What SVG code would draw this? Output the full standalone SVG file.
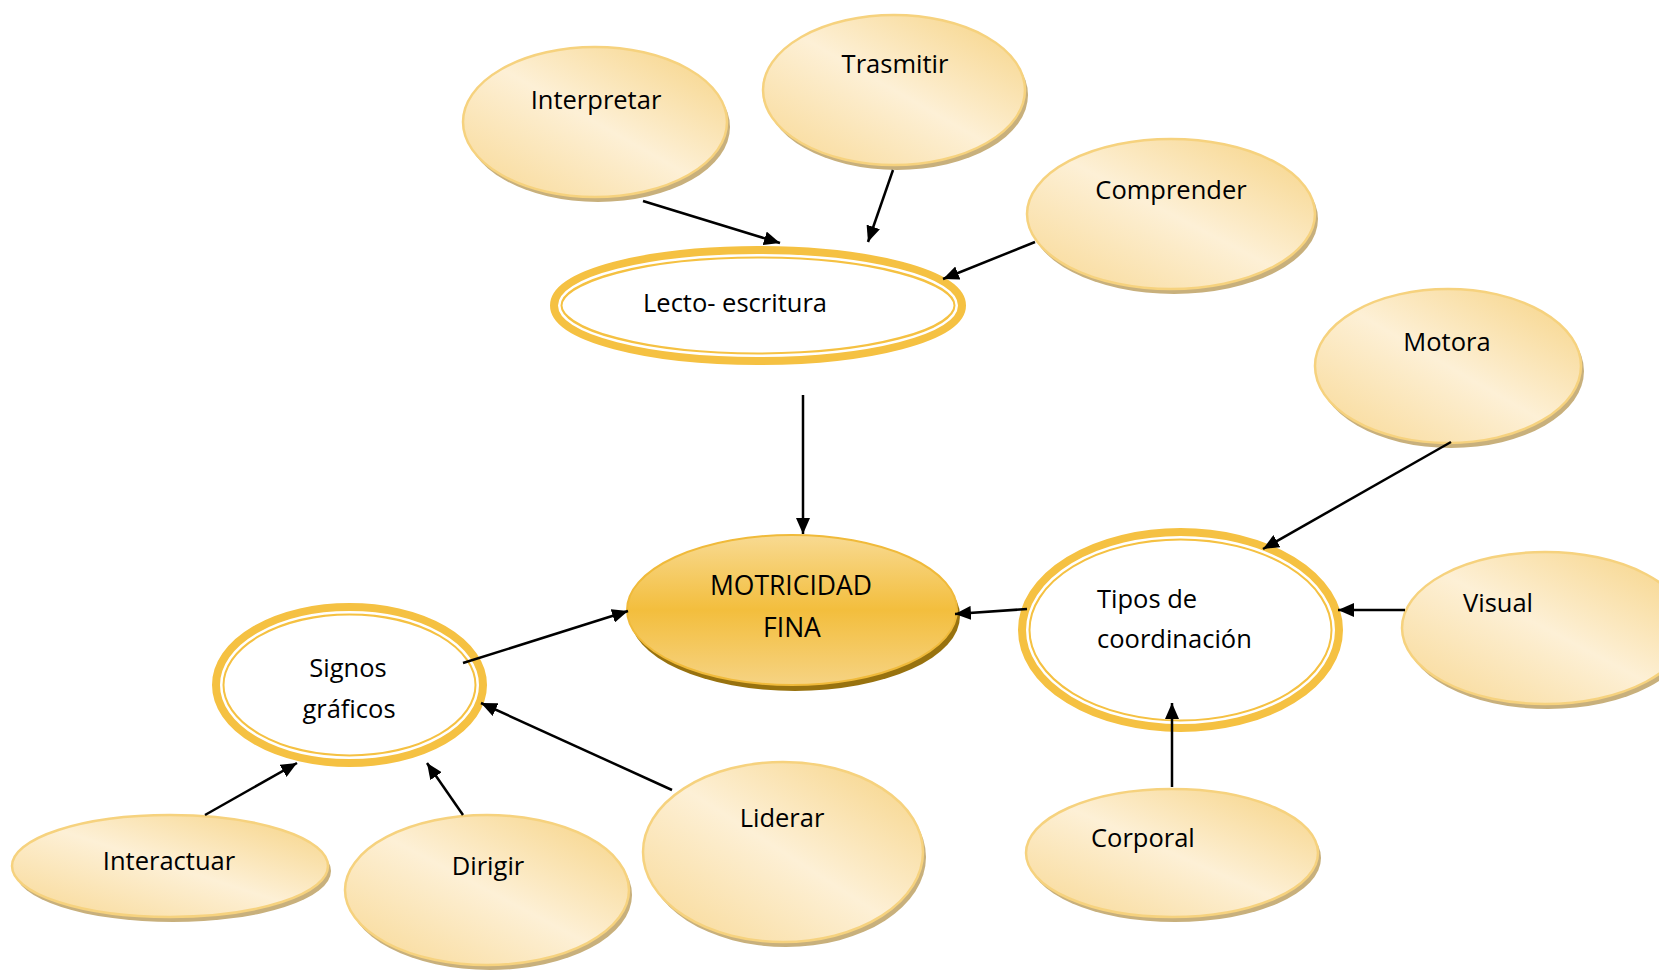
<svg xmlns="http://www.w3.org/2000/svg" width="1659" height="972" viewBox="0 0 1659 972">
<defs>
<linearGradient id="gLight" x1="1" y1="0" x2="0" y2="1">
<stop offset="0" stop-color="#F6D282"/>
<stop offset="0.5" stop-color="#FDF0D6"/>
<stop offset="1" stop-color="#F8D893"/>
</linearGradient>
<linearGradient id="gMain" x1="0" y1="0" x2="0" y2="1">
<stop offset="0" stop-color="#F8DA92"/>
<stop offset="0.5" stop-color="#F3BE3D"/>
<stop offset="1" stop-color="#F6D383"/>
</linearGradient>
<marker id="ah" markerUnits="userSpaceOnUse" markerWidth="17" markerHeight="14" refX="16" refY="7" orient="auto">
<path d="M0,0 L16,7 L0,14 z" fill="#000"/>
</marker>
</defs>
<style>
.t{font-family:"Open Sans","Liberation Sans",sans-serif;font-size:25.5px;fill:#000}
.c{text-anchor:middle}
.big{font-size:26.5px}
.sh{fill:#C8B07C}
.lt{fill:url(#gLight);stroke:#F6D27E;stroke-width:2.5}
.dbl{fill:#fff;stroke:#F5C142;stroke-width:12.5}
.dbi{fill:none;stroke:#fff;stroke-width:2.5}
.ln{stroke:#000;stroke-width:2.5;fill:none;marker-end:url(#ah)}
</style>
<rect width="1659" height="972" fill="#fff"/>

<g id="interpretar">
<ellipse class="sh" cx="598" cy="127" rx="132" ry="75"/>
<ellipse class="lt" cx="595" cy="122" rx="132" ry="75"/>
<text class="t c" x="596" y="109">Interpretar</text>
</g>
<g id="trasmitir">
<ellipse class="sh" cx="897" cy="95" rx="131" ry="75"/>
<ellipse class="lt" cx="894" cy="90" rx="131" ry="75"/>
<text class="t c" x="895" y="73">Trasmitir</text>
</g>
<g id="comprender">
<ellipse class="sh" cx="1174" cy="219" rx="144" ry="75"/>
<ellipse class="lt" cx="1171" cy="214" rx="144" ry="75"/>
<text class="t c" x="1171" y="199">Comprender</text>
</g>
<g id="lecto">
<ellipse class="dbl" cx="758" cy="305.5" rx="201.75" ry="53.25"/>
<ellipse class="dbi" cx="758" cy="305.5" rx="198.75" ry="50.25"/>
<text class="t" x="643" y="312">Lecto- escritura</text>
</g>
<g id="motricidad">
<ellipse fill="#98720F" cx="795" cy="616" rx="165" ry="75"/>
<ellipse fill="url(#gMain)" stroke="#F0BA3A" stroke-width="2" cx="792" cy="610" rx="165" ry="75"/>
<text class="t c big" x="791" y="595">MOTRICIDAD</text>
<text class="t c big" x="792" y="637">FINA</text>
</g>
<g id="signos">
<ellipse class="dbl" cx="349.5" cy="685" rx="131.25" ry="75.75"/>
<ellipse class="dbi" cx="349.5" cy="685" rx="128.25" ry="72.75"/>
<text class="t c" x="348" y="677">Signos</text>
<text class="t c" x="349" y="718">gráficos</text>
</g>
<g id="tipos">
<ellipse class="dbl" cx="1180.5" cy="630" rx="156.25" ry="95.75"/>
<ellipse class="dbi" cx="1180.5" cy="630" rx="153.25" ry="92.75"/>
<text class="t" x="1097" y="608">Tipos de</text>
<text class="t" x="1097" y="648">coordinación</text>
</g>
<g id="motora">
<ellipse class="sh" cx="1451" cy="371" rx="133" ry="77"/>
<ellipse class="lt" cx="1448" cy="366" rx="133" ry="77"/>
<text class="t c" x="1447" y="351">Motora</text>
</g>
<g id="visual">
<ellipse class="sh" cx="1548" cy="633" rx="143" ry="76"/>
<ellipse class="lt" cx="1545" cy="628" rx="143" ry="76"/>
<text class="t" x="1463" y="612">Visual</text>
</g>
<g id="corporal">
<ellipse class="sh" cx="1175" cy="858" rx="146" ry="64"/>
<ellipse class="lt" cx="1172" cy="853" rx="146" ry="64"/>
<text class="t" x="1091" y="847">Corporal</text>
</g>
<g id="liderar">
<ellipse class="sh" cx="786" cy="857" rx="140" ry="90"/>
<ellipse class="lt" cx="783" cy="852" rx="140" ry="90"/>
<text class="t c" x="782" y="827">Liderar</text>
</g>
<g id="dirigir">
<ellipse class="sh" cx="490" cy="895" rx="142" ry="75"/>
<ellipse class="lt" cx="487" cy="890" rx="142" ry="75"/>
<text class="t c" x="488" y="875">Dirigir</text>
</g>
<g id="interactuar">
<ellipse class="sh" cx="173" cy="871" rx="158" ry="51"/>
<ellipse class="lt" cx="170" cy="866" rx="158" ry="51"/>
<text class="t c" x="169" y="870">Interactuar</text>
</g>

<g id="connectors">
<line class="ln" x1="643" y1="201" x2="780" y2="243"/>
<line class="ln" x1="893" y1="170" x2="868" y2="242"/>
<line class="ln" x1="1035" y1="242" x2="943" y2="279"/>
<line class="ln" x1="803" y1="395" x2="803" y2="534"/>
<line class="ln" x1="463" y1="663" x2="628" y2="611"/>
<line class="ln" x1="1027" y1="609" x2="955" y2="614"/>
<line class="ln" x1="1451" y1="442" x2="1263" y2="549"/>
<line class="ln" x1="1405" y1="610" x2="1338" y2="610"/>
<line class="ln" x1="1172" y1="787" x2="1172" y2="703"/>
<line class="ln" x1="205" y1="815" x2="297" y2="763"/>
<line class="ln" x1="463" y1="815" x2="427" y2="763"/>
<line class="ln" x1="672" y1="790" x2="481" y2="703"/>
</g>
</svg>
